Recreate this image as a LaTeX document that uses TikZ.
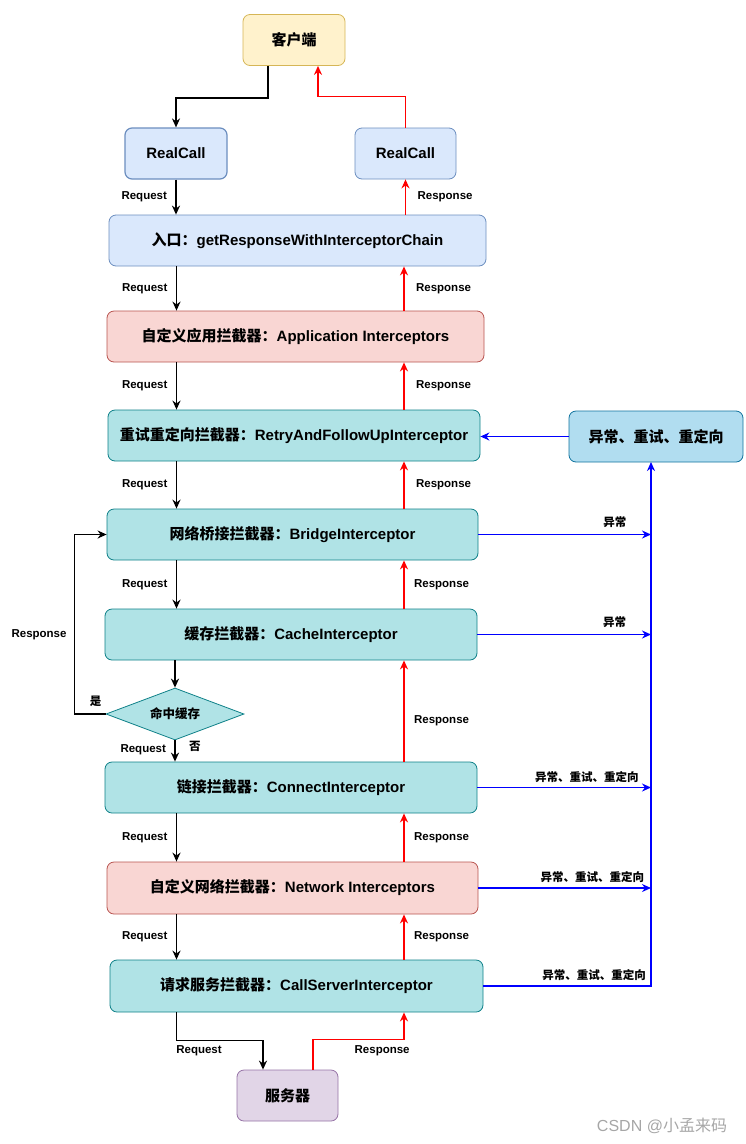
\documentclass[tikz,border=0pt]{standalone}
\usepackage{fontspec}
\setmainfont{Liberation Sans}
\newfontfamily\cjk{Noto Sans CJK SC}
\usepackage{tikz}
\usetikzlibrary{calc, positioning, arrows.meta, shapes.geometric}

\definecolor{yelFill}{HTML}{FFF2CC}
\definecolor{yelLine}{HTML}{D6B656}
\definecolor{bluFill}{HTML}{DAE8FC}
\definecolor{bluLine}{HTML}{6C8EBF}
\definecolor{redFill}{HTML}{F9D6D3}
\definecolor{redLine}{HTML}{B85450}
\definecolor{tealFill}{HTML}{B0E3E6}
\definecolor{tealLine}{HTML}{0E8088}
\definecolor{skyFill}{HTML}{B1DDF0}
\definecolor{skyLine}{HTML}{10739E}
\definecolor{purFill}{HTML}{E1D5E7}
\definecolor{purLine}{HTML}{9673A6}

\newcommand{\zh}[1]{{\cjk #1}}

\begin{document}
\begin{tikzpicture}[x=1pt, y=-1pt,
	box/.style={rectangle, rounded corners=7pt, line width=0.8pt, minimum height=51, inner sep=0pt,
		font=\bfseries\fontsize{15}{18}\selectfont},
	hit/.style={diamond, aspect=2.6, line width=0.8pt, minimum width=138, minimum height=52, inner sep=0pt,
		fill=tealFill, draw=tealLine, font=\bfseries\fontsize{12.5}{15}\selectfont},
	lbl/.style={font=\bfseries\fontsize{11.5}{13}\selectfont, text=black},
	req/.style={->, >={Stealth[length=9pt, width=8pt]}, line width=1.5pt, black},
	rsp/.style={->, >={Stealth[length=9pt, width=8pt]}, line width=1.5pt, red},
	exc/.style={->, >={Stealth[length=9pt, width=8pt]}, line width=1.5pt, blue}]

	\useasboundingbox (0,0) rectangle (745,1144);

	% nodes - top %
	\node[box, fill=yelFill, draw=yelLine, minimum width=102] (client) at (294,40) {\zh{客户端}};
	\node[box, fill=bluFill, draw=bluLine, line width=1.2pt, minimum width=102] (rc1) at (176,153.5) {RealCall};
	\node[box, fill=bluFill, draw=bluLine, minimum width=101] (rc2) at (405.5,153.5) {RealCall};
	\node[box, fill=bluFill, draw=bluLine, minimum width=377] (entry) at (297.5,240.5) {\zh{入口：}getResponseWithInterceptorChain};

	% nodes - interceptor chain %
	\node[box, fill=redFill, draw=redLine, minimum width=377] (app) at (295.5,336.5) {\zh{自定义应用拦截器：}Application Interceptors};
	\node[box, fill=tealFill, draw=tealLine, minimum width=372] (retry) at (294,435.5) {\zh{重试重定向拦截器：}RetryAndFollowUpInterceptor};
	\node[box, fill=skyFill, draw=skyLine, minimum width=174] (err) at (656,436.5) {\zh{异常、重试、重定向}};
	\node[box, fill=tealFill, draw=tealLine, minimum width=371] (bridge) at (292.5,534.5) {\zh{网络桥接拦截器：}BridgeInterceptor};
	\node[box, fill=tealFill, draw=tealLine, minimum width=372] (cache) at (291,634.5) {\zh{缓存拦截器：}CacheInterceptor};
	\node[hit] (hitc) at (175,714) {\zh{命中缓存}};
	\node[box, fill=tealFill, draw=tealLine, minimum width=372] (conn) at (291,787.5) {\zh{链接拦截器：}ConnectInterceptor};
	\node[box, fill=redFill, draw=redLine, minimum width=371, minimum height=52] (net) at (292.5,888) {\zh{自定义网络拦截器：}Network Interceptors};
	\node[box, fill=tealFill, draw=tealLine, minimum width=373, minimum height=52] (srv) at (296.5,986) {\zh{请求服务拦截器：}CallServerInterceptor};
	\node[box, fill=purFill, draw=purLine, minimum width=101] (server) at (287.5,1095.5) {\zh{服务器}};

	\coordinate (xL) at (176.5,0);
	\coordinate (xR) at (404,0);
	\coordinate (xB) at (651,462);

	% edges - request %
	\draw[req] ([xshift=-26pt]client.south) -- ++(0,32) -| (rc1.north);
	\draw[req] (rc1.south) -- node[left, lbl, xshift=-5pt] {Request} (entry.north -| rc1.south);
	\draw[req] (entry.south -| xL) -- node[left, lbl, xshift=-5pt] {Request} (app.north -| xL);
	\draw[req] (app.south -| xL) -- node[left, lbl, xshift=-5pt] {Request} (retry.north -| xL);
	\draw[req] (retry.south -| xL) -- node[left, lbl, xshift=-5pt] {Request} (bridge.north -| xL);
	\draw[req] (bridge.south -| xL) -- node[left, lbl, xshift=-5pt] {Request} (cache.north -| xL);
	\draw[req] (cache.south -| hitc.north) -- (hitc.north);
	\draw[req] (hitc.south) -- node[left, lbl, xshift=-5pt, pos=0.45] {Request} node[right, lbl, xshift=10pt, pos=0.3] {\zh{否}} (conn.north -| hitc.south);
	\draw[req] (hitc.west) -- ++(-31,0) node[lbl, pos=0.32, above, yshift=3pt] {\zh{是}}
		|- node[left, lbl, pos=0.22, xshift=-4pt] {Response} (bridge.west);
	\draw[req] (conn.south -| xL) -- node[left, lbl, xshift=-5pt] {Request} (net.north -| xL);
	\draw[req] (net.south -| xL) -- node[left, lbl, xshift=-5pt] {Request} (srv.north -| xL);
	\draw[req] (srv.south -| xL) -- ++(0,28) -| node[below, lbl, pos=0.13, yshift=-1pt] {Request} ([xshift=-24.5pt]server.north);

	% edges - response %
	\draw[rsp] (rc2.north) -- ++(0,-31) -| ([xshift=24pt]client.south);
	\draw[rsp] (entry.north -| rc2.south) -- node[right, lbl, xshift=8pt] {Response} (rc2.south);
	\draw[rsp] (app.north -| xR) -- node[right, lbl, xshift=8pt] {Response} (entry.south -| xR);
	\draw[rsp] (retry.north -| xR) -- node[right, lbl, xshift=8pt] {Response} (app.south -| xR);
	\draw[rsp] (bridge.north -| xR) -- node[right, lbl, xshift=8pt] {Response} (retry.south -| xR);
	\draw[rsp] (cache.north -| xR) -- node[right, lbl, xshift=6pt] {Response} (bridge.south -| xR);
	\draw[rsp] (conn.north -| xR) -- node[right, lbl, xshift=6pt, pos=0.4] {Response} (cache.south -| xR);
	\draw[rsp] (net.north -| xR) -- node[right, lbl, xshift=6pt] {Response} (conn.south -| xR);
	\draw[rsp] (srv.north -| xR) -- node[right, lbl, xshift=6pt] {Response} (net.south -| xR);
	\draw[rsp] ([xshift=25.5pt]server.north) -- ++(0,-30) -| node[below, lbl, pos=0.38, yshift=-2pt] {Response} (srv.south -| xR);

	% edges - exceptions %
	\draw[exc] (err.west) -- (err.west -| retry.east);
	\draw[exc] (bridge.east) -- node[above, lbl, pos=0.79, yshift=3pt] {\zh{异常}} (bridge.east -| xB);
	\draw[exc] (cache.east) -- node[above, lbl, pos=0.79, yshift=3pt] {\zh{异常}} (cache.east -| xB);
	\draw[exc] (conn.east) -- node[above, lbl, pos=0.63, yshift=1pt] {\zh{异常、重试、重定向}} (conn.east -| xB);
	\draw[exc] (net.east) -- node[above, lbl, pos=0.66, yshift=1pt] {\zh{异常、重试、重定向}} (net.east -| xB);
	\draw[exc] (srv.east) -| node[above, lbl, pos=0.33, yshift=1pt] {\zh{异常、重试、重定向}} (xB);

	% watermark %
	\node[text=black!35, font=\fontsize{16}{19}\selectfont] (mark) at (662,1126) {CSDN @\zh{小孟来码}};

\end{tikzpicture}
\end{document}
